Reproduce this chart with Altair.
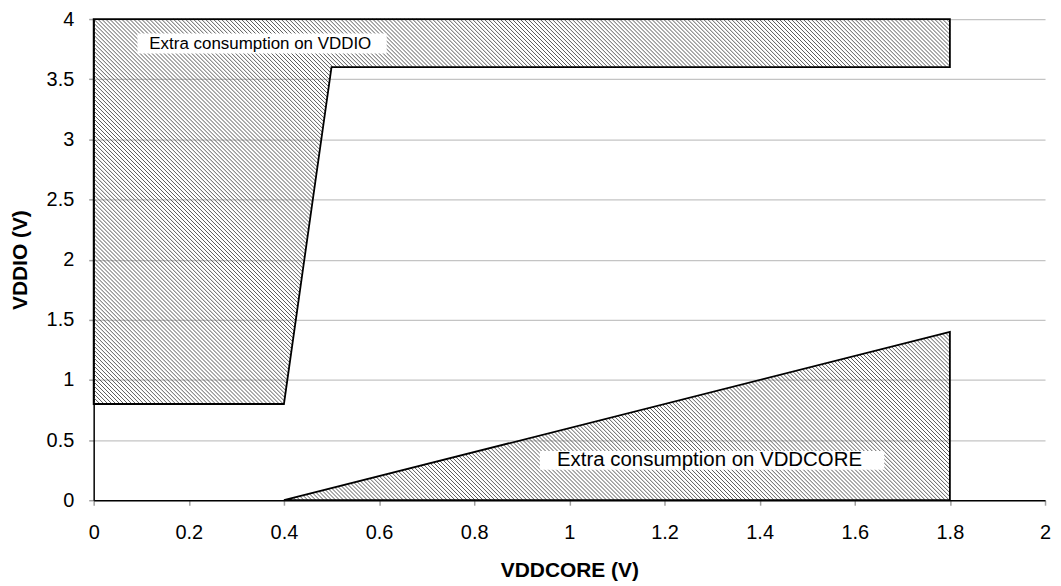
import altair as alt
import pandas as pd

# ---- data ----
# Upper hatched region: "Extra consumption on VDDIO"
io_x = [0.0, 0.4, 0.5, 1.8]
io_low = [0.8, 0.8, 3.6, 3.6]
io_high = [4.0, 4.0, 4.0, 4.0]

# Lower hatched region: "Extra consumption on VDDCORE"
core_x = [0.4, 1.8]
core_low = [0.0, 0.0]
core_high = [0.0, 1.4]

x_ticks = [0, 0.2, 0.4, 0.6, 0.8, 1.0, 1.2, 1.4, 1.6, 1.8, 2.0]
y_ticks = [0, 0.5, 1.0, 1.5, 2.0, 2.5, 3.0, 3.5, 4.0]

# annotation labels (data units)
io_label = ["Extra consumption on VDDIO"]
io_label_x = [0.117]
io_label_y = [3.755]
io_box_x = [0.092]
io_box_x2 = [0.616]
io_box_y = [3.714]
io_box_y2 = [3.880]

core_label = ["Extra consumption on VDDCORE"]
core_label_x = [0.974]
core_label_y = [0.288]
core_box_x = [0.938]
core_box_x2 = [1.662]
core_box_y = [0.253]
core_box_y2 = [0.410]

# ---- layout ----
W_PLOT = 955
H_PLOT = 483
X_DOM = [0, 2]
Y_DOM = [0, 4]
PX_X = W_PLOT / (X_DOM[1] - X_DOM[0])
PX_Y = H_PLOT / (Y_DOM[1] - Y_DOM[0])
FONT = "Liberation Sans, Arial, Helvetica, sans-serif"
HATCH_STEP = 4  # horizontal spacing of the '\' hatch lines, in pixels


def hatch_segments(xs, lows, highs):
    """Clip 45-degree '\\' hatch lines to the polygon bounded by lows/highs."""
    poly = [(x, y) for x, y in zip(xs, lows)] + [(x, y) for x, y in zip(xs[::-1], highs[::-1])]
    # to pixel space (origin top-left of plot)
    pts = [((x - X_DOM[0]) * PX_X, (Y_DOM[1] - y) * PX_Y) for x, y in poly]
    vals = [px - py for px, py in pts]
    cmin = int(min(vals) // HATCH_STEP) * HATCH_STEP
    cmax = int(max(vals) // HATCH_STEP + 1) * HATCH_STEP
    rows = []
    for c in range(cmin, cmax + 1, HATCH_STEP):
        hits = []
        for i in range(len(pts)):
            p = pts[i]
            q = pts[(i + 1) % len(pts)]
            fp = p[0] - p[1] - c
            fq = q[0] - q[1] - c
            if (fp > 0) != (fq > 0):
                t = fp / (fp - fq)
                hits.append(p[0] + t * (q[0] - p[0]))
        hits.sort()
        for j in range(0, len(hits) - 1, 2):
            X1, X2 = hits[j], hits[j + 1]
            Y1, Y2 = X1 - c, X2 - c
            rows.append({
                "x": X_DOM[0] + X1 / PX_X, "y": Y_DOM[1] - Y1 / PX_Y,
                "x2": X_DOM[0] + X2 / PX_X, "y2": Y_DOM[1] - Y2 / PX_Y,
            })
    return pd.DataFrame(rows)


io_df = pd.DataFrame({"x": io_x, "lo": io_low, "hi": io_high})
core_df = pd.DataFrame({"x": core_x, "lo": core_low, "hi": core_high})
hatch_df = pd.concat([hatch_segments(io_x, io_low, io_high),
                      hatch_segments(core_x, core_low, core_high)], ignore_index=True)

xscale = alt.Scale(domain=X_DOM, nice=False, zero=False)
yscale = alt.Scale(domain=Y_DOM, nice=False, zero=False)

x_axis = alt.Axis(values=x_ticks, format=".1~f", title="VDDCORE (V)", grid=False,
                  domainColor="#000000", domainWidth=1.5, tickColor="#a0a0a0",
                  tickSize=5, tickWidth=1.5, labelFontSize=20, labelPadding=17,
                  labelColor="#000000", labelFont=FONT, labelFlush=False,
                  labelOverlap=False, titleFont=FONT, titleFontSize=21,
                  titleFontWeight="bold", titleColor="#000000", titlePadding=18)
y_axis = alt.Axis(values=y_ticks, format=".1~f", title="VDDIO (V)", grid=True,
                  gridColor="#c4c4c4", gridWidth=1.2,
                  domainColor="#000000", domainWidth=1.5, tickColor="#a0a0a0",
                  tickSize=5, tickWidth=1.5, labelFontSize=20, labelPadding=15,
                  labelColor="#000000", labelFont=FONT, labelFlush=False,
                  labelOverlap=False, titleFont=FONT, titleFontSize=21,
                  titleFontWeight="bold", titleColor="#000000", titlePadding=16)

hatch = alt.Chart(hatch_df).mark_rule(color="#5a5a5a", strokeWidth=1).encode(
    x=alt.X("x:Q", scale=xscale, axis=x_axis),
    y=alt.Y("y:Q", scale=yscale, axis=y_axis),
    x2="x2:Q",
    y2="y2:Q",
)

io_area = alt.Chart(io_df).mark_area(
    fillOpacity=0, stroke="#000000", strokeWidth=1.8
).encode(
    x=alt.X("x:Q", scale=xscale),
    y=alt.Y("lo:Q", scale=yscale),
    y2="hi:Q",
)

core_area = alt.Chart(core_df).mark_area(
    fillOpacity=0, stroke="#000000", strokeWidth=1.8
).encode(
    x=alt.X("x:Q", scale=xscale),
    y=alt.Y("lo:Q", scale=yscale),
    y2="hi:Q",
)

io_lab_df = pd.DataFrame({"t": io_label, "x": io_label_x, "y": io_label_y,
                          "bx": io_box_x, "bx2": io_box_x2, "by": io_box_y, "by2": io_box_y2})
core_lab_df = pd.DataFrame({"t": core_label, "x": core_label_x, "y": core_label_y,
                            "bx": core_box_x, "bx2": core_box_x2, "by": core_box_y, "by2": core_box_y2})


def label_layers(df, size):
    box = alt.Chart(df).mark_rect(fill="#ffffff").encode(
        x=alt.X("bx:Q", scale=xscale), x2="bx2:Q",
        y=alt.Y("by:Q", scale=yscale), y2="by2:Q",
    )
    txt = alt.Chart(df).mark_text(
        align="left", baseline="alphabetic", font=FONT, fontSize=size, color="#000000"
    ).encode(
        x=alt.X("x:Q", scale=xscale), y=alt.Y("y:Q", scale=yscale), text="t:N"
    )
    return box + txt


chart = alt.layer(
    hatch, io_area, core_area,
    label_layers(io_lab_df, 17), label_layers(core_lab_df, 20.5)
).properties(
    width=W_PLOT, height=H_PLOT,
    autosize=alt.AutoSizeParams(type="none"),
    padding={"left": 86, "top": 10, "right": 8, "bottom": 80},
    background="#ffffff",
).configure_view(strokeWidth=0)

chart.save("out.html", embed_options={"renderer": "svg", "actions": False})
